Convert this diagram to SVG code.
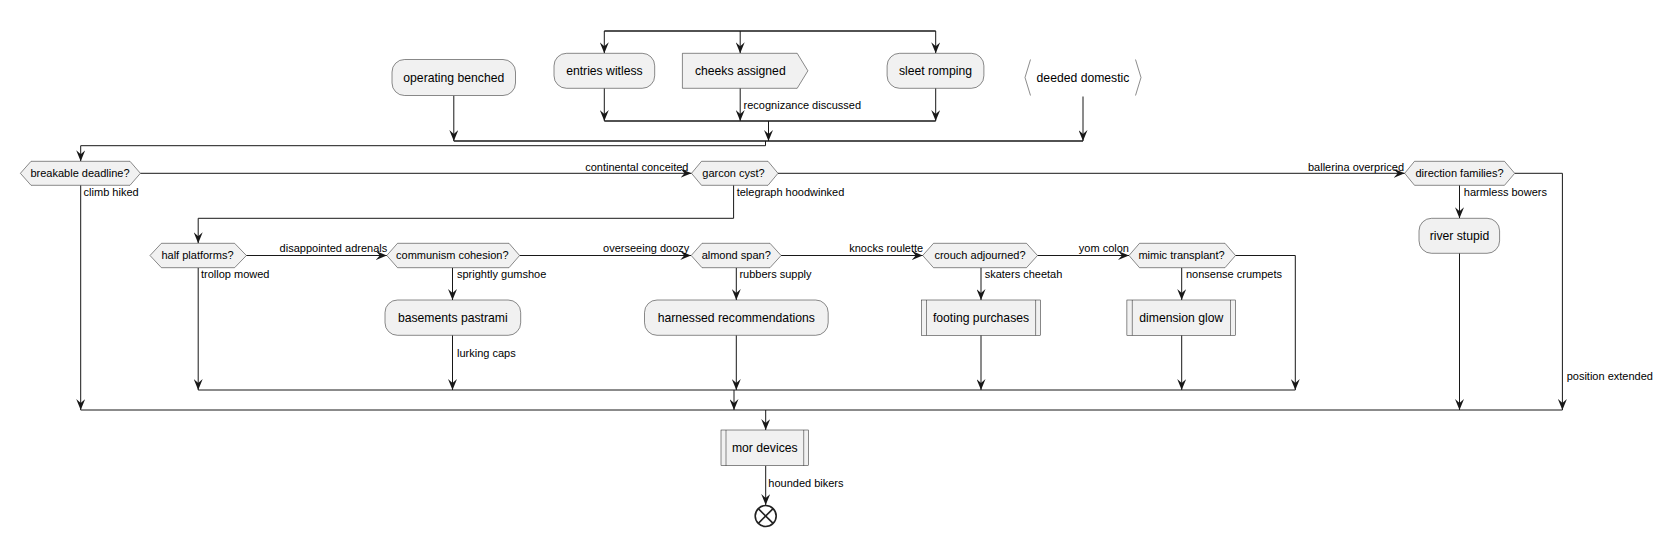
<svg xmlns="http://www.w3.org/2000/svg" width="1662" height="537" viewBox="0 0 1662 537">
<defs>
<marker id="ah" viewBox="0 0 11 9" refX="11" refY="4.5" markerWidth="11" markerHeight="9" markerUnits="userSpaceOnUse" orient="auto">
<path d="M0,0 L11,4.5 L0,9 L4,4.5 Z" fill="#181818"/>
</marker>
<style>
.box{fill:#F1F1F1;stroke:#181818;stroke-width:0.5}
.br{fill:none;stroke:#181818;stroke-width:0.5}
.t{font-family:"Liberation Sans",Arial,sans-serif;font-size:12.2px;fill:#000;text-anchor:middle}
.d{font-family:"Liberation Sans",Arial,sans-serif;font-size:11px;fill:#000;text-anchor:middle}
.l{font-family:"Liberation Sans",Arial,sans-serif;font-size:11px;fill:#000}
.e{fill:none;stroke:#181818;stroke-width:1}
.a{fill:none;stroke:#181818;stroke-width:1;marker-end:url(#ah)}
.bar{fill:none;stroke:#181818;stroke-width:1.6}
</style>
</defs>
<rect width="1662" height="537" fill="#FFFFFF"/>

<g id="connectors">
<line class="bar" x1="604.3" y1="31" x2="935.7" y2="31"/>
<line class="a" x1="604.3" y1="31" x2="604.3" y2="53.3"/>
<line class="a" x1="740.2" y1="31" x2="740.2" y2="53.3"/>
<line class="a" x1="935.7" y1="31" x2="935.7" y2="53.3"/>
<line class="a" x1="604.3" y1="88.3" x2="604.3" y2="121"/>
<line class="a" x1="740.2" y1="88.3" x2="740.2" y2="121"/>
<text class="l" x="743.6" y="109">recognizance discussed</text>
<line class="a" x1="935.7" y1="88.3" x2="935.7" y2="121"/>
<line class="bar" x1="604.3" y1="121" x2="935.7" y2="121"/>
<line class="a" x1="768.5" y1="121" x2="768.5" y2="141"/>
<line class="a" x1="453.8" y1="95.7" x2="453.8" y2="141"/>
<line class="a" x1="1083" y1="96.5" x2="1083" y2="141"/>
<line class="bar" x1="453.8" y1="141" x2="1083" y2="141"/>
<polyline class="a" points="765.5,141 765.5,145.7 80.7,145.7 80.7,161.3"/>

<line class="a" x1="140.4" y1="173.3" x2="691.5" y2="173.3"/>
<text class="l" x="688.5" y="170.5" text-anchor="end">continental conceited</text>
<line class="a" x1="80.7" y1="185.3" x2="80.7" y2="410"/>
<text class="l" x="83.6" y="195.5">climb hiked</text>

<line class="a" x1="778" y1="173.3" x2="1404.7" y2="173.3"/>
<text class="l" x="1404" y="170.5" text-anchor="end">ballerina overpriced</text>
<polyline class="a" points="733.6,185.3 733.6,218.3 198.2,218.3 198.2,243.3"/>
<text class="l" x="736.7" y="195.5">telegraph hoodwinked</text>

<polyline class="a" points="1514.7,173.3 1562.4,173.3 1562.4,410"/>
<text class="l" x="1566.7" y="380">position extended</text>
<line class="a" x1="1459.5" y1="185.3" x2="1459.5" y2="218.3"/>
<text class="l" x="1463.8" y="195.5">harmless bowers</text>
<line class="a" x1="1459.5" y1="253.3" x2="1459.5" y2="410"/>

<line class="a" x1="246.4" y1="255.5" x2="386.8" y2="255.5"/>
<text class="l" x="279.6" y="252.3">disappointed adrenals</text>
<line class="a" x1="198.2" y1="267.7" x2="198.2" y2="390"/>
<text class="l" x="201" y="278">trollop mowed</text>

<line class="a" x1="519.6" y1="255.5" x2="691.2" y2="255.5"/>
<text class="l" x="603.1" y="252.3">overseeing doozy</text>
<line class="a" x1="452.5" y1="267.7" x2="452.5" y2="300"/>
<text class="l" x="457" y="277.5">sprightly gumshoe</text>
<line class="a" x1="452.5" y1="335.3" x2="452.5" y2="390"/>
<text class="l" x="457" y="357">lurking caps</text>

<line class="a" x1="781.1" y1="255.5" x2="922.7" y2="255.5"/>
<text class="l" x="849.2" y="252.3">knocks roulette</text>
<line class="a" x1="736.3" y1="267.7" x2="736.3" y2="300"/>
<text class="l" x="739.4" y="277.5">rubbers supply</text>
<line class="a" x1="736.3" y1="335.3" x2="736.3" y2="390"/>

<line class="a" x1="1037.5" y1="255.5" x2="1129" y2="255.5"/>
<text class="l" x="1078.8" y="252.3">yom colon</text>
<line class="a" x1="981" y1="267.7" x2="981" y2="300"/>
<text class="l" x="984.7" y="277.5">skaters cheetah</text>
<line class="a" x1="981" y1="335.3" x2="981" y2="390"/>

<polyline class="a" points="1235.5,255.5 1295.3,255.5 1295.3,390"/>
<line class="a" x1="1181.7" y1="267.7" x2="1181.7" y2="300"/>
<text class="l" x="1186" y="277.5">nonsense crumpets</text>
<line class="a" x1="1181.7" y1="335.3" x2="1181.7" y2="390"/>

<line class="e" x1="198.2" y1="390" x2="1295.3" y2="390"/>
<line class="a" x1="734" y1="390" x2="734" y2="410"/>
<line class="e" x1="80.7" y1="410" x2="1562.4" y2="410"/>
<line class="a" x1="765.7" y1="410" x2="765.7" y2="430"/>
<line class="a" x1="765.7" y1="465.7" x2="765.7" y2="505"/>
<text class="l" x="768.3" y="487.3">hounded bikers</text>
</g>

<g id="operating-benched"><rect class="box" x="392" y="59.5" width="123.5" height="36" rx="12.5"/><text class="t" x="453.8" y="81.8">operating benched</text></g>
<g id="entries-witless"><rect class="box" x="554" y="53.3" width="100.7" height="35" rx="12.5"/><text class="t" x="604.4" y="75">entries witless</text></g>
<g id="cheeks-assigned"><polygon class="box" points="682.4,53.3 797.2,53.3 807.9,70.8 797.2,88.3 682.4,88.3"/><text class="t" x="740.3" y="75">cheeks assigned</text></g>
<g id="sleet-romping"><rect class="box" x="887.1" y="53.3" width="96.8" height="35" rx="12.5"/><text class="t" x="935.5" y="75">sleet romping</text></g>
<g id="deeded-domestic"><polyline class="br" points="1030.5,59.5 1025,77.5 1030.5,95.5"/><polyline class="br" points="1135.5,59.5 1141,77.5 1135.5,95.5"/><text class="t" x="1083" y="81.5">deeded domestic</text></g>

<g id="breakable-deadline"><polygon class="box" points="20.4,173.3 31,161.3 130,161.3 140.4,173.3 130,185.3 31,185.3"/><text class="d" x="80" y="177.2">breakable deadline?</text></g>
<g id="garcon-cyst"><polygon class="box" points="691.5,173.3 701.5,161.3 768,161.3 778,173.3 768,185.3 701.5,185.3"/><text class="d" x="733.5" y="177.2">garcon cyst?</text></g>
<g id="direction-families"><polygon class="box" points="1404.7,173.3 1414.5,161.3 1504.5,161.3 1514.7,173.3 1504.5,185.3 1414.5,185.3"/><text class="d" x="1459.5" y="177.2">direction families?</text></g>
<g id="river-stupid"><rect class="box" x="1419" y="218.3" width="80.6" height="35" rx="12.5"/><text class="t" x="1459.5" y="240">river stupid</text></g>

<g id="half-platforms"><polygon class="box" points="150,255.5 161.4,243.3 234.6,243.3 246.4,255.5 234.6,267.7 161.4,267.7"/><text class="d" x="197.5" y="259.4">half platforms?</text></g>
<g id="communism-cohesion"><polygon class="box" points="386.8,255.5 397.5,243.3 509,243.3 519.6,255.5 509,267.7 397.5,267.7"/><text class="d" x="452.3" y="259.4">communism cohesion?</text></g>
<g id="basements-pastrami"><rect class="box" x="385" y="300" width="135.7" height="35.3" rx="12.5"/><text class="t" x="452.8" y="322">basements pastrami</text></g>
<g id="almond-span"><polygon class="box" points="691.2,255.5 702,243.3 770,243.3 781.1,255.5 770,267.7 702,267.7"/><text class="d" x="736.2" y="259.4">almond span?</text></g>
<g id="harnessed-recommendations"><rect class="box" x="644.5" y="300" width="183.7" height="35.3" rx="12.5"/><text class="t" x="736.3" y="322">harnessed recommendations</text></g>
<g id="crouch-adjourned"><polygon class="box" points="922.7,255.5 933.5,243.3 1026.5,243.3 1037.5,255.5 1026.5,267.7 933.5,267.7"/><text class="d" x="980" y="259.4">crouch adjourned?</text></g>
<g id="footing-purchases"><rect class="box" x="921.6" y="300" width="119" height="35.3"/><line class="br" x1="926.5" y1="300" x2="926.5" y2="335.3"/><line class="br" x1="1035.6" y1="300" x2="1035.6" y2="335.3"/><text class="t" x="981" y="322">footing purchases</text></g>
<g id="mimic-transplant"><polygon class="box" points="1129,255.5 1139.5,243.3 1225,243.3 1235.5,255.5 1225,267.7 1139.5,267.7"/><text class="d" x="1181.5" y="259.4">mimic transplant?</text></g>
<g id="dimension-glow"><rect class="box" x="1126.9" y="300" width="108.6" height="35.3"/><line class="br" x1="1132.3" y1="300" x2="1132.3" y2="335.3"/><line class="br" x1="1230.5" y1="300" x2="1230.5" y2="335.3"/><text class="t" x="1181.3" y="322">dimension glow</text></g>
<g id="mor-devices"><rect class="box" x="721" y="430" width="87.7" height="35.7"/><line class="br" x1="726" y1="430" x2="726" y2="465.7"/><line class="br" x1="803.7" y1="430" x2="803.7" y2="465.7"/><text class="t" x="764.8" y="452">mor devices</text></g>
<g id="end"><circle cx="765.7" cy="516" r="10.5" fill="#FFFFFF" stroke="#222222" stroke-width="1.6"/><line x1="758.3" y1="508.6" x2="773.1" y2="523.4" stroke="#222222" stroke-width="1.6"/><line x1="773.1" y1="508.6" x2="758.3" y2="523.4" stroke="#222222" stroke-width="1.6"/></g>
</svg>
